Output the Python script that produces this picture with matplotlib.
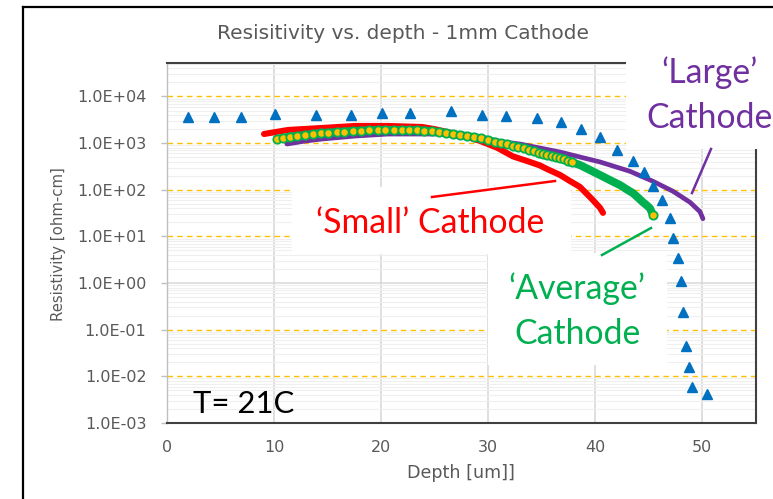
import matplotlib
matplotlib.use("Agg")
import matplotlib.pyplot as plt
from matplotlib.lines import Line2D
from matplotlib.patches import Rectangle
from matplotlib.ticker import LogLocator, FuncFormatter, NullFormatter
import numpy as np

# ---------------- data ----------------
tri_depth = [1.96, 4.39, 6.92, 10.09, 13.93, 17.20, 20.09, 22.71, 26.54, 29.44,
             31.68, 34.58, 36.82, 38.69, 40.47, 42.06, 43.55, 44.58, 45.42, 46.26,
             47.01, 47.29, 47.76, 48.04, 48.22, 48.50, 48.79, 49.07, 50.47]
tri_res = [3630, 3630, 3630, 4220, 4010, 4010, 4430, 4430, 4890, 4010,
           3820, 3460, 2840, 2010, 1355, 713, 414, 240, 120, 60,
           25, 9.1, 3.45, 1.11, 0.243, 0.0454, 0.0161, 0.0060, 0.0041]

small_depth = [9.07, 11.31, 14.49, 17.57, 20.65, 23.83, 25.00, 26.17, 27.66, 29.25,
               30.84, 32.34, 33.93, 34.86, 35.51, 36.73, 37.66, 38.60, 39.81, 40.47,
               40.75]
small_res = [1571, 1914, 2113, 2333, 2333, 2220, 2000, 1735, 1440, 1120,
             800, 520, 394, 332, 279, 208, 154, 115, 60, 41,
             32]

avg_depth = [10.28, 10.84, 11.50, 12.15, 12.90, 13.64, 14.39, 15.05, 15.89, 16.54,
             17.38, 18.13, 18.88, 19.72, 20.37, 21.21, 21.96, 22.62, 23.36, 24.02,
             24.77, 25.42, 26.07, 26.73, 27.38, 28.04, 28.69, 29.35, 30.00, 30.65,
             31.21, 31.78, 32.34, 32.80, 33.36, 33.83, 34.30, 34.77, 35.14, 35.51,
             35.98, 36.36, 36.73, 37.10, 37.48, 37.85, 38.60, 39.53, 40.47, 41.40,
             42.34, 43.00, 43.55, 44.02, 44.49, 44.86, 45.14, 45.42]
avg_res = [1225, 1286, 1386, 1420, 1493, 1567, 1648, 1672, 1730, 1766,
           1820, 1846, 1891, 1910, 1910, 1910, 1910, 1910, 1883, 1855,
           1791, 1730, 1655, 1567, 1493, 1420, 1352, 1268, 1167, 1067,
           995, 938, 884, 841, 777, 722, 670, 619, 589, 561,
           529, 503, 479, 447, 417, 389, 339, 265, 207, 161,
           126, 101, 85, 68, 54, 46, 40, 29]

large_depth = [11.21, 12.90, 14.49, 17.57, 20.65, 23.83, 26.17, 28.60, 30.84, 32.99,
               34.86, 36.73, 38.60, 40.47, 43.27, 45.42, 47.29, 48.88, 49.81, 50.09]
large_res = [957, 1109, 1225, 1420, 1567, 1567, 1567, 1352, 1109, 957,
             785, 644, 504, 395, 249, 152, 93, 54, 34, 24]

x_ticks = [0, 10, 20, 30, 40, 50]
y_ticks = [1e-3, 1e-2, 1e-1, 1e0, 1e1, 1e2, 1e3, 1e4]

title = "Resisitivity vs. depth - 1mm Cathode"
xlabel = "Depth [um]]"
ylabel = "Resistivity [ohm-cm]"

# ---------------- figure ----------------
W, H = 773, 499
fig = plt.figure(figsize=(W / 100, H / 100), dpi=100)
fig.patch.set_facecolor("white")


def fx(px):
    return px / W


def fy(py):
    return 1 - py / H


ax = fig.add_axes([fx(167), fy(423), fx(756) - fx(167), fy(63) - fy(423)])
ax.set_yscale("log")
ax.set_xlim(0, 55.05)
ax.set_ylim(1e-3, 10 ** 4.718)
ax.set_axisbelow(True)

ax.set_xticks(x_ticks)
ax.set_yticks(y_ticks)
ax.yaxis.set_major_formatter(FuncFormatter(lambda v, p: f"{v:.1E}"))
ax.yaxis.set_minor_locator(LogLocator(base=10, subs=np.arange(2, 10), numticks=30))
ax.yaxis.set_minor_formatter(NullFormatter())

ax.xaxis.grid(True, color="#D9D9D9", lw=1.2)
ax.yaxis.grid(True, which="minor", color="#EFEFEF", lw=0.8)
for v in y_ticks:
    if v == 1.0:
        ax.axhline(v, color="#D9D9D9", lw=1.1, zorder=0.6)
    else:
        ax.axhline(v, color="#FFC000", lw=1.0, ls=(0, (4, 3)), zorder=0.6)

for s in ["top", "right", "bottom"]:
    ax.spines[s].set_color("#404040")
    ax.spines[s].set_linewidth(1.5)
ax.spines["left"].set_color("#BFBFBF")
ax.spines["left"].set_linewidth(1.0)

ax.tick_params(axis="y", which="major", length=4.3, width=1, color="#BFBFBF",
               pad=10.5, labelsize=11.5, labelcolor="#595959")
ax.tick_params(axis="y", which="minor", length=0)
ax.tick_params(axis="x", length=0, pad=12, labelsize=11.5, labelcolor="#595959")

# series
ax.plot(large_depth, large_res, color="#7030A0", lw=3.4, solid_capstyle="round",
        solid_joinstyle="round", zorder=2)
ax.plot(small_depth, small_res, color="#FF0000", lw=4.4, solid_capstyle="round",
        solid_joinstyle="round", zorder=2.1)
mk = list(range(0, 46)) + [len(avg_depth) - 1]
ax.plot(avg_depth, avg_res, color="#00B050", lw=5.8, solid_capstyle="round",
        solid_joinstyle="round",
        marker="o", ms=6.0, mfc="#FFC000", mec="#00B050", mew=1.3,
        markevery=mk, zorder=2.2)
ax.plot(tri_depth, tri_res, ls="none", marker="^", ms=7.0, color="#0070C0", zorder=3)

# ---------------- overlays (white boxes, annotation lines, texts) ----------------
def box(x0, y0, x1, y1):
    fig.add_artist(Rectangle((fx(x0), fy(y1)), fx(x1) - fx(x0), fy(y0) - fy(y1),
                             transform=fig.transFigure, facecolor="white",
                             edgecolor="none", zorder=3))


box(292, 187, 571, 254)
box(488, 253, 667, 365)
box(626, 38, 773, 149)


def seg(x0, y0, x1, y1, color):
    fig.add_artist(Line2D([fx(x0), fx(x1)], [fy(y0), fy(y1)], transform=fig.transFigure,
                          color=color, lw=1.8, zorder=4))


seg(432, 197, 555, 181, "#FF0000")
seg(602, 255, 651, 228, "#00B050")
seg(692, 193, 711, 149, "#7030A0")

# outer slide frame
fig.add_artist(Line2D([fx(23), fx(23)], [fy(7), 0], transform=fig.transFigure,
                      color="black", lw=1.6, zorder=6))
fig.add_artist(Line2D([fx(23), 1], [fy(7), fy(7)], transform=fig.transFigure,
                      color="black", lw=1.6, zorder=6))

renderer = fig.canvas.get_renderer()


def fit(t, target, vertical=False):
    bb = t.get_window_extent(renderer=renderer)
    cur = bb.height if vertical else bb.width
    t.set_fontsize(t.get_fontsize() * target / cur)


tt = fig.text(fx(403), fy(39), title, ha="center", va="baseline", color="#595959", fontsize=14)
fit(tt, 372)
yl = fig.text(fx(58), fy(244), ylabel, ha="center", va="center", rotation=90,
              color="#595959", fontsize=11)
fit(yl, 154, vertical=True)
xl = fig.text(fx(461), fy(473), xlabel, ha="center", va="center", color="#595959", fontsize=11)
fit(xl, 108)

AF = "Lato"
ref = fig.text(0, 0, "Cathode", family=AF, fontsize=24)
bbw = ref.get_window_extent(renderer=renderer).width
asz = 24 * 126 / bbw
ref.remove()

fig.text(fx(710), fy(83), "\u2018Large\u2019", family=AF, fontsize=asz, color="#7030A0",
         ha="center", va="baseline", zorder=5)
fig.text(fx(710), fy(128), "Cathode", family=AF, fontsize=asz, color="#7030A0",
         ha="center", va="baseline", zorder=5)
fig.text(fx(430), fy(233), "\u2018Small\u2019 Cathode", family=AF, fontsize=asz,
         color="#FF0000", ha="center", va="baseline", zorder=5)
fig.text(fx(577), fy(299), "\u2018Average\u2019", family=AF, fontsize=asz, color="#00B050",
         ha="center", va="baseline", zorder=5)
fig.text(fx(577), fy(344), "Cathode", family=AF, fontsize=asz, color="#00B050",
         ha="center", va="baseline", zorder=5)
fig.text(fx(193), fy(413), "T= 21C", family=AF, fontsize=asz * 0.92, color="black",
         ha="left", va="baseline", zorder=5)

fig.savefig("out.png", dpi=100)
